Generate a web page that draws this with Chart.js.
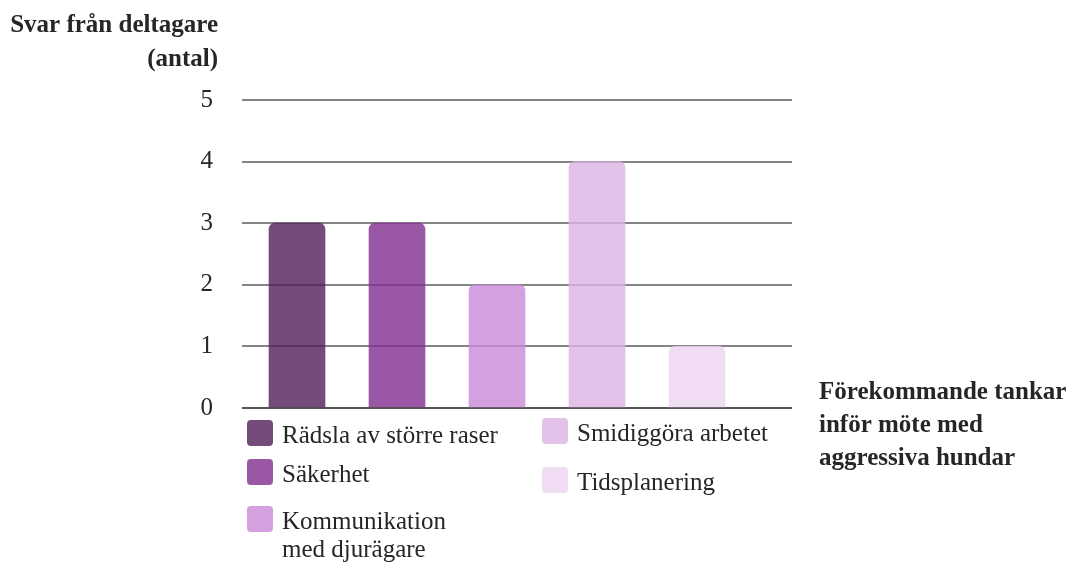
<!DOCTYPE html>
<html>
<head>
<meta charset="utf-8">
<script src="https://cdn.jsdelivr.net/npm/chart.js@4"></script>
<style>
html,body{margin:0;padding:0;background:#fff;}
#wrap{position:relative;width:1071px;height:563px;}
</style>
</head>
<body>
<div id="wrap"><canvas id="c"></canvas></div>
<script>
const categories = ["Rädsla av större raser", "Säkerhet", "Kommunikation med djurägare", "Smidiggöra arbetet", "Tidsplanering"];
const legendLines = [["Rädsla av större raser"], ["Säkerhet"], ["Kommunikation", "med djurägare"], ["Smidiggöra arbetet"], ["Tidsplanering"]];
const values = [3, 3, 2, 4, 1];
const barColors = ["rgba(83,30,91,0.8)", "rgba(129,45,142,0.8)", "rgba(203,136,215,0.8)", "rgba(220,179,229,0.8)", "rgba(236,211,240,0.8)"];
const yTitle = ["Svar från deltagare", "(antal)"];
const xTitle = ["Förekommande tankar", "inför möte med", "aggressiva hundar"];
const yMin = 0, yMax = 5, yStep = 1;
const xMin = -0.55, xMax = 4.95;

const FONT = "'Liberation Serif', 'Times New Roman', serif";

// legend slot positions (layout only)
const legendSlots = [
  {x: 247, y: 420}, {x: 247, y: 459}, {x: 247, y: 506},
  {x: 542, y: 418}, {x: 542, y: 467}
];

const extrasPlugin = {
  id: 'extras',
  afterDraw(chart) {
    const ctx = chart.ctx;
    ctx.save();
    ctx.fillStyle = '#262626';
    ctx.font = "bold 25px " + FONT;
    ctx.textAlign = 'right';
    ctx.textBaseline = 'alphabetic';
    ctx.fillText(yTitle[0], 218, 32);
    ctx.fillText(yTitle[1], 218, 66);
    ctx.textAlign = 'left';
    xTitle.forEach((t, i) => ctx.fillText(t, 819, 399 + i * 33));
    // legend
    ctx.font = "25px " + FONT;
    legendLines.forEach((lines, i) => {
      const s = legendSlots[i];
      ctx.fillStyle = barColors[i];
      ctx.beginPath();
      ctx.roundRect(s.x, s.y, 26, 26, 4);
      ctx.fill();
      ctx.fillStyle = '#262626';
      lines.forEach((ln, j) => ctx.fillText(ln, s.x + 35, s.y + 23 + j * 28));
    });
    ctx.restore();
  }
};

new Chart(document.getElementById('c'), {
  type: 'bar',
  data: {
    labels: categories,
    datasets: [{
      data: values.map((v, i) => ({ x: i, y: v })),
      backgroundColor: barColors,
      borderWidth: 0,
      borderRadius: 6,
      borderSkipped: 'start',
      barThickness: 56
    }]
  },
  options: {
    responsive: true,
    maintainAspectRatio: false,
    animation: false,
    devicePixelRatio: 1,
    layout: { padding: { left: 0, top: 100, right: 279, bottom: 155 } },
    plugins: { legend: { display: false }, tooltip: { enabled: false } },
    scales: {
      x: {
        type: 'linear',
        min: xMin, max: xMax,
        offset: false,
        display: false
      },
      y: {
        min: yMin, max: yMax,
        afterFit(scale) { scale.width = 242; },
        border: { display: false },
        grid: {
          drawTicks: false,
          lineWidth: 2,
          color: (c) => c.tick && c.tick.value === 0 ? '#555555' : '#858585'
        },
        ticks: {
          stepSize: yStep,
          padding: 29,
          color: '#262626',
          font: { family: FONT, size: 25 }
        }
      }
    }
  },
  plugins: [extrasPlugin]
});
</script>
</body>
</html>
